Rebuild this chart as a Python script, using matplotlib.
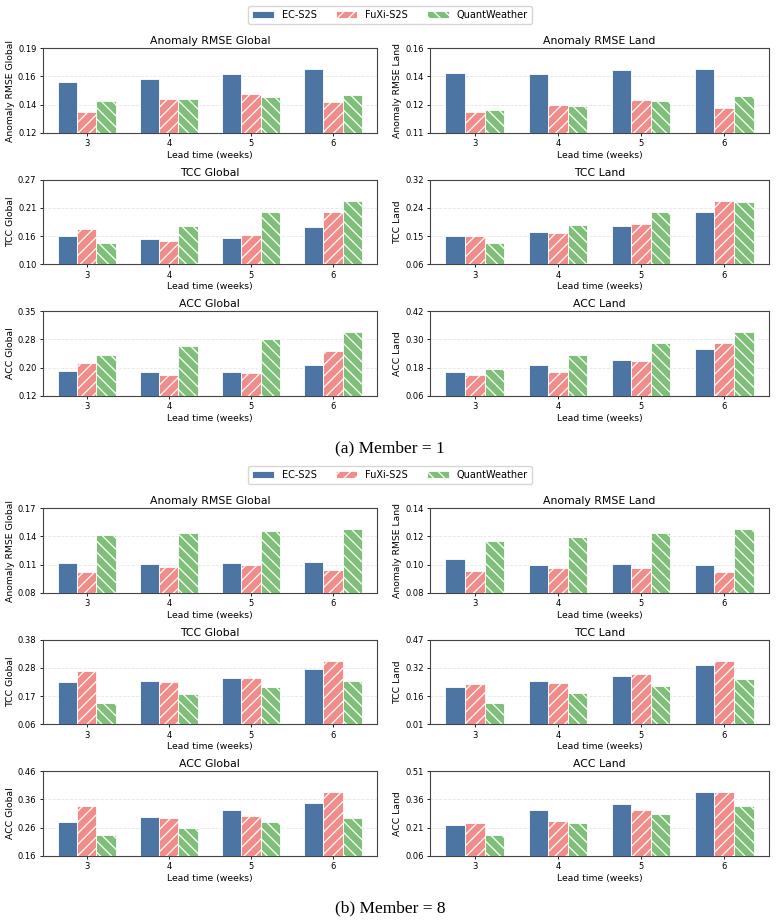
import numpy as np
import matplotlib
matplotlib.use("Agg")
import matplotlib.pyplot as plt
from matplotlib.patches import Patch
from matplotlib.ticker import FormatStrFormatter

# ── Data ────────────────────────────────────────────────────────
weeks = [3, 4, 5, 6]
models = ["EC-S2S", "FuXi-S2S", "QuantWeather"]
metrics = ["Anomaly RMSE Global", "Anomaly RMSE Land",
           "TCC Global", "TCC Land",
           "ACC Global", "ACC Land"]
captions = ["(a) Member = 1", "(b) Member = 8"]

# member = 1
ec_m1 = [
    [0.1597, 0.1620, 0.1660, 0.1695],
    [0.1438, 0.1434, 0.1454, 0.1460],
    [0.1556, 0.1496, 0.1510, 0.1732],
    [0.1501, 0.1603, 0.1798, 0.2227],
    [0.1892, 0.1857, 0.1866, 0.2048],
    [0.1597, 0.1896, 0.2108, 0.2576],
]
fuxi_m1 = [
    [0.1365, 0.1460, 0.1505, 0.1438],
    [0.1200, 0.1243, 0.1269, 0.1222],
    [0.1686, 0.1458, 0.1574, 0.2033],
    [0.1481, 0.1592, 0.1858, 0.2570],
    [0.2110, 0.1795, 0.1830, 0.2439],
    [0.1500, 0.1612, 0.2065, 0.2850],
]
qw_m1 = [
    [0.1448, 0.1460, 0.1477, 0.1495],
    [0.1210, 0.1236, 0.1265, 0.1296],
    [0.1415, 0.1752, 0.2026, 0.2245],
    [0.1270, 0.1819, 0.2216, 0.2534],
    [0.2329, 0.2575, 0.2766, 0.2945],
    [0.1738, 0.2335, 0.2850, 0.3300],
]

# member = 8
ec_m8 = [
    [0.1120, 0.1110, 0.1117, 0.1131],
    [0.1037, 0.0994, 0.1006, 0.0999],
    [0.2217, 0.2268, 0.2368, 0.2723],
    [0.2110, 0.2437, 0.2727, 0.3306],
    [0.2797, 0.2974, 0.3214, 0.3484],
    [0.2220, 0.3020, 0.3376, 0.3970],
]
fuxi_m8 = [
    [0.1025, 0.1070, 0.1095, 0.1039],
    [0.0953, 0.0973, 0.0978, 0.0950],
    [0.2633, 0.2243, 0.2380, 0.3030],
    [0.2271, 0.2363, 0.2819, 0.3550],
    [0.3355, 0.2929, 0.2998, 0.3850],
    [0.2342, 0.2450, 0.3020, 0.3975],
]
qw_m8 = [
    [0.1416, 0.1434, 0.1454, 0.1475],
    [0.1170, 0.1196, 0.1222, 0.1250],
    [0.1430, 0.1776, 0.2041, 0.2256],
    [0.1250, 0.1802, 0.2184, 0.2543],
    [0.2350, 0.2584, 0.2785, 0.2953],
    [0.1725, 0.2342, 0.2823, 0.3250],
]

blocks = [(ec_m1, fuxi_m1, qw_m1), (ec_m8, fuxi_m8, qw_m8)]

# ── Style ───────────────────────────────────────────────────────
colors = ["#4C75A3", "#F08C89", "#80BF79"]
hatches = [None, "///", "\\\\\\"]
plt.rcParams["hatch.color"] = "white"
plt.rcParams["hatch.linewidth"] = 0.9

W, H = 780, 922
fig = plt.figure(figsize=(W / 100, H / 100), dpi=100)

col_x = [(42.7, 377.0), (430.0, 769.0)]   # pixel left/right of axes
row_y = [(48.3, 132.7), (179.7, 264.3), (311.3, 395.7)]  # pixel top/bottom
block_off = [0, 460]
bar_w = 0.235
x = np.arange(len(weeks))


def px_axes(x0, x1, y0, y1):
    return fig.add_axes([x0 / W, 1 - y1 / H, (x1 - x0) / W, (y1 - y0) / H])


for b, (ec, fx, qw) in enumerate(blocks):
    off = block_off[b]
    for m, name in enumerate(metrics):
        r, c = divmod(m, 2)
        ax = px_axes(col_x[c][0], col_x[c][1], row_y[r][0] + off, row_y[r][1] + off)
        series = [ec[m], fx[m], qw[m]]
        for k, vals in enumerate(series):
            ax.bar(x + (k - 1) * bar_w, vals, bar_w, color=colors[k],
                   hatch=hatches[k], edgecolor="white", linewidth=0.6, zorder=3)
        lo = min(min(s) for s in series)
        hi = max(max(s) for s in series)
        span = hi - lo
        ymin, ymax = lo - 0.5 * span, hi + 0.5 * span
        ax.set_ylim(ymin, ymax)
        ax.set_yticks(np.linspace(ymin, ymax, 4))
        ax.yaxis.set_major_formatter(FormatStrFormatter("%.2f"))
        ax.set_xticks(x)
        ax.set_xticklabels([str(w) for w in weeks])
        ax.grid(axis="y", linestyle="--", alpha=0.3, linewidth=0.6, zorder=0)
        ax.set_title(name, fontsize=7.8, pad=3)
        ax.set_ylabel(name, fontsize=6.7, labelpad=2)
        ax.set_xlabel("Lead time (weeks)", fontsize=6.7, labelpad=2)
        ax.tick_params(axis="both", labelsize=6, length=2.5, width=0.6, pad=2)
        for sp in ax.spines.values():
            sp.set_color("#444444")
            sp.set_linewidth(0.8)

    handles = [Patch(facecolor=colors[k], hatch=hatches[k], edgecolor="white", linewidth=0.6)
               for k in range(3)]
    fig.legend(handles, models, loc="center", ncol=3, fontsize=7,
               bbox_to_anchor=(0.5, 1 - (15 + off) / H), frameon=True,
               handlelength=2.2, handleheight=0.8, columnspacing=2.0,
               handletextpad=0.8, borderpad=0.45)
    fig.text(0.5, 1 - (448 + off) / H, captions[b], ha="center", va="center",
             fontsize=12.5, family="Liberation Serif")

plt.savefig("out.png", dpi=100, facecolor="white")
